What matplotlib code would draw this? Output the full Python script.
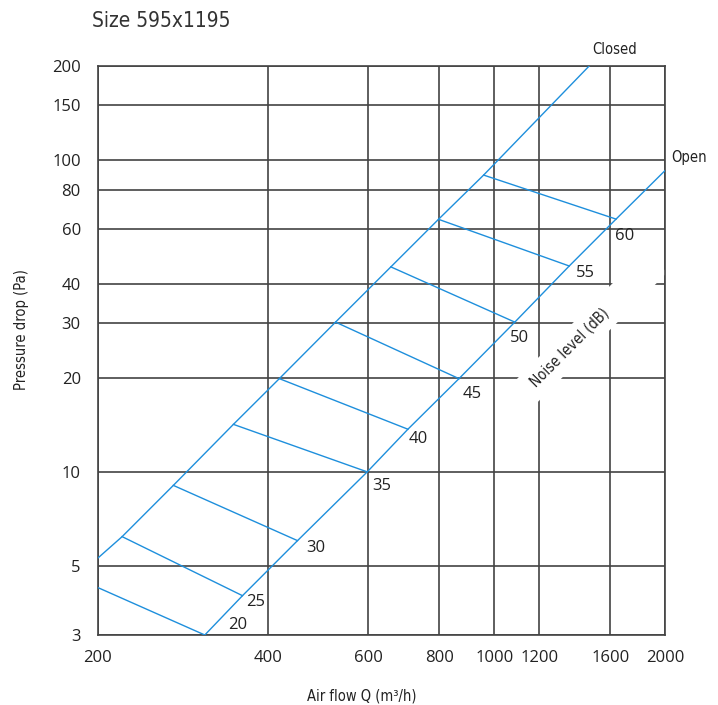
import numpy as np
import matplotlib.pyplot as plt
from matplotlib import font_manager
from matplotlib.ticker import FixedLocator, NullLocator, FixedFormatter

# air flow (m3/h) vs pressure drop (Pa)
closed_q = [200, 221, 272, 347, 418, 525, 657, 797, 957, 1468]
closed_p = [5.28, 6.2, 9.05, 14.2, 19.9, 30.2, 45.4, 64.5, 89.4, 200]
open_q = [309, 360, 450, 597, 704, 866, 1086, 1354, 1637, 2000]
open_p = [3.0, 4.01, 6.02, 10.0, 13.7, 19.9, 30.2, 45.7, 64.6, 92.7]

# noise level lines (dB)
noise_db = [20, 25, 30, 35, 40, 45, 50, 55, 60]
noise_start_q = [187, 221, 272, 347, 418, 525, 657, 797, 957]
noise_start_p = [4.5, 6.2, 9.05, 14.2, 19.9, 30.2, 45.4, 64.5, 89.4]
noise_end_q = [309, 360, 450, 597, 704, 866, 1086, 1354, 1637]
noise_end_p = [3.0, 4.01, 6.02, 10.0, 13.7, 19.9, 30.2, 45.7, 64.6]

xticks = [200, 400, 600, 800, 1000, 1200, 1600, 2000]
yticks = [3, 5, 10, 20, 30, 40, 60, 80, 100, 150, 200]

blue = '#1e8fdc'
grey = '#434343'
txt = '#222222'

# pick a condensed font if there is one
fl = font_manager.fontManager.ttflist
names = set(f.name for f in fl)
if 'Liberation Sans Narrow' in names:
    narrow = dict(family=['Liberation Sans Narrow', 'DejaVu Sans'])
elif any(f.name == 'DejaVu Sans' and f.stretch == 'condensed' for f in fl):
    narrow = dict(family=['DejaVu Sans'], stretch='condensed')
else:
    narrow = dict(family=['Roboto', 'DejaVu Sans'])
num = ['Open Sans', 'DejaVu Sans']

fig = plt.figure(figsize=(7.18, 7.05), dpi=100)
ax = fig.add_axes([0.1358, 0.0993, 0.791, 0.8071])
ax.set_xscale('log')
ax.set_yscale('log')
ax.set_xlim(200, 2000)
ax.set_ylim(3, 200)

ax.xaxis.set_major_locator(FixedLocator(xticks))
ax.xaxis.set_major_formatter(FixedFormatter([str(v) for v in xticks]))
ax.yaxis.set_major_locator(FixedLocator(yticks))
ax.yaxis.set_major_formatter(FixedFormatter([str(v) for v in yticks]))
ax.xaxis.set_minor_locator(NullLocator())
ax.yaxis.set_minor_locator(NullLocator())
ax.tick_params(length=0, labelsize=12, colors=txt)
ax.tick_params(axis='x', pad=11)
ax.tick_params(axis='y', pad=12)
for lab in ax.get_xticklabels() + ax.get_yticklabels():
    lab.set_family(num)

ax.grid(True, color=grey, lw=1.2, zorder=0)
ax.set_axisbelow(True)
for s in ax.spines.values():
    s.set_color(grey)
    s.set_linewidth(1.2)

ax.plot(closed_q, closed_p, color=blue, lw=1, zorder=3)
ax.plot(open_q, open_p, color=blue, lw=1, zorder=3)
for i in range(len(noise_db)):
    ax.plot([noise_start_q[i], noise_end_q[i]], [noise_start_p[i], noise_end_p[i]],
            color=blue, lw=1, zorder=3)

offsets = [(33, 10), (13, -6), (18, -7), (15, -14), (10, -10), (13, -15), (5, -16), (16, -7), (9, -17)]
for i, db in enumerate(noise_db):
    ax.annotate(str(db), (noise_end_q[i], noise_end_p[i]), xytext=offsets[i],
                textcoords='offset pixels', ha='center', va='center',
                fontsize=12, family=num, color=txt, zorder=4)

ax.text(1449, 28.1, '    Noise level (dB)' + ' ' * 15, rotation=45, rotation_mode='anchor',
        ha='center', va='center', fontsize=10.5, color=txt,
        bbox=dict(boxstyle='square,pad=0.55', fc='white', ec='none'), zorder=2, **narrow)

ax.text(1630, 226, 'Closed', ha='center', va='center', fontsize=10.5,
        color=txt, clip_on=False, **narrow)
ax.text(2202, 102, 'Open', ha='center', va='center', fontsize=10.5,
        color=txt, clip_on=False, **narrow)

fig.text(362 / 718, 1 - 696 / 705, 'Air flow Q (m³/h)', ha='center', va='center',
         fontsize=10.5, color=txt, **narrow)
fig.text(22 / 718, 1 - 330 / 705, 'Pressure drop (Pa)', ha='center', va='center',
         rotation=90, fontsize=10.5, color=txt, **narrow)

fig.text(92 / 718, 1 - 27 / 705, 'Size 595x1195', fontsize=15, color='#333333',
         va='baseline', ha='left', **narrow)

fig.savefig('out.png', dpi=100)
